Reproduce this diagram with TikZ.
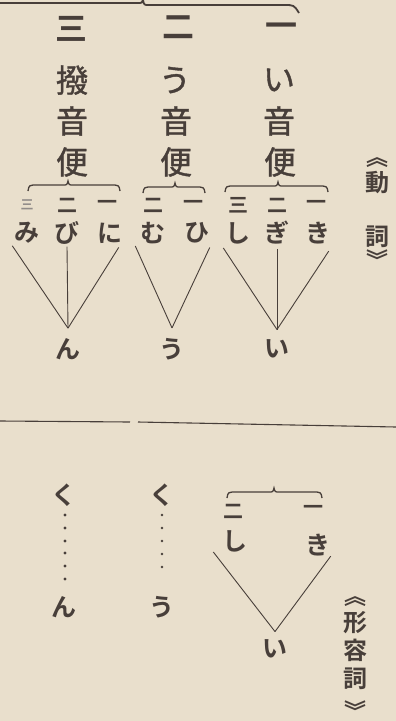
\documentclass[tikz,border=0pt]{standalone}
\usepackage{fontspec}
\newfontfamily\jp[FakeBold=1.2]{Noto Sans CJK JP}
\newfontfamily\jpb{Noto Sans CJK JP Bold}
\definecolor{bg}{RGB}{233,223,204}
\definecolor{ink}{RGB}{72,63,58}
\newcommand\mybrace[5][]{\draw[br,#1] (#2,#5+6) .. controls (#2+1,#5) .. (#2+10,#5) -- (#3-5,#5) .. controls (#3-1,#5) .. (#3,#5-4) .. controls (#3+1,#5) .. (#3+5,#5) -- (#4-10,#5) .. controls (#4-1,#5) .. (#4,#5+6);}
\begin{document}
\begin{tikzpicture}[x=1pt,y=-1pt,
  big/.style={font=\jp\fontsize{32}{32}\selectfont, text=ink, inner sep=0pt},
  topnum/.style={font=\jpb\fontsize{32}{32}\selectfont, text=ink, inner sep=0pt},
  num/.style={font=\jpb\fontsize{20}{20}\selectfont, text=ink, inner sep=0pt},
  kana/.style={font=\jpb\fontsize{25}{25}\selectfont, text=ink, inner sep=0pt},
  lbl/.style={font=\jpb\fontsize{24}{24}\selectfont, text=ink, inner sep=0pt},
  vbr/.style={font=\jpb\fontsize{22}{22}\selectfont, text=ink, inner sep=0pt},
  ln/.style={draw=ink, line width=0.9pt},
  br/.style={draw=ink, line width=1.3pt},
  dot/.style={fill=ink}]
\fill[bg] (0,0) rectangle (396,721);
\useasboundingbox (0,0) rectangle (396,721);

% top brace
\draw[br, line width=1.8pt] (-5,3) -- (137,3) .. controls (142,3) .. (143,0) .. controls (144,5) .. (149,5) -- (284,5) .. controls (294,5) .. (299,13);

% column headings
\node[topnum] (c3) at (72,29) {三};
\node[topnum] (c2) at (178,27) {二};
\node[topnum] (c1) at (281,30) {一};
\node[big] (a1) at (72,80) {撥};
\node[big] (a2) at (72,121) {音};
\node[big] (a3) at (72,162) {便};
\node[big] (b1) at (175,80) {う};
\node[big] (b2) at (176,121) {音};
\node[big] (b3) at (176,162) {便};
\node[big] (d1) at (279,80) {い};
\node[big] (d2) at (279,121) {音};
\node[big] (d3) at (280,162) {便};

% braces under columns
\mybrace{28}{68}{120}{185}
\mybrace{143}{175}{205}{187}
\mybrace{225}{278}{328}{186}

% small numerals
\node[num, font=\jpb\fontsize{13}{13}\selectfont, text=ink!60] (m3) at (27,205) {三};
\node[num] (m2) at (67,205) {二};
\node[num] (m1) at (107,205) {一};
\node[num] (u2) at (153,205) {二};
\node[num] (u1) at (193,205) {一};
\node[num] (s3) at (238,205) {三};
\node[num] (s2) at (277,205) {二};
\node[num] (s1) at (316,205) {一};

% kana row
\node[kana] (mi) at (27,233) {み};
\node[kana] (bi) at (67,233) {び};
\node[kana] (ni) at (110,233) {に};
\node[kana] (mu) at (153,233) {む};
\node[kana] (hi) at (197,233) {ひ};
\node[kana] (shi) at (238,233) {し};
\node[kana] (gi) at (277,233) {ぎ};
\node[kana] (ki) at (318,233) {き};

% results
\node[kana] (n) at (68,349) {ん};
\node[kana] (u) at (172,349) {う};
\node[kana] (i) at (277,349) {い};

\draw[ln] ([xshift=-2pt,yshift=-2pt]mi.south west) -- ([yshift=10pt]n.north);
\draw[ln] ([yshift=-2pt]bi.south) -- ([yshift=10pt]n.north);
\draw[ln] ([xshift=-4pt,yshift=-4pt]ni.south east) -- ([yshift=10pt]n.north);
\draw[ln] ([xshift=-5pt,yshift=-2pt]mu.south west) -- ([yshift=10pt]u.north);
\draw[ln] ([yshift=-4pt]hi.south east) -- ([yshift=10pt]u.north);
\draw[ln] ([xshift=-2pt,yshift=-4pt]shi.south west) -- ([yshift=10pt]i.north);
\draw[ln] ([yshift=-4pt]gi.south) -- ([yshift=10pt]i.north);
\draw[ln] ([xshift=-2pt,yshift=-7pt]ki.south east) -- ([yshift=10pt]i.north);

% verb label
\node[vbr] (v0) at (377,163) {︽};
\node[lbl] (v1) at (377,183) {動};
\node[lbl] (v2) at (377,237) {詞};
\node[vbr] (v3) at (377,259.5) {︾};

% separator
\coordinate (hL0) at (0,421);
\coordinate (hL1) at (130,422);
\coordinate (hR0) at (138,422);
\coordinate (hR1) at (396,427);
\draw[ink, line width=1.1pt] (hL0) -- (hL1);
\draw[ink, line width=1.1pt] (hR0) -- (hR1);

% adjective section
\node[kana] (k1) at (64,495) {く};
\node[kana] (n2) at (64,607) {ん};
\foreach \y in {515,528,541,553,566,579} \fill[dot] (65,\y) circle (1.7);
\node[kana] (k2) at (162,495) {く};
\node[kana] (u3) at (162,607) {う};
\foreach \y in {515,528,541,554,567} \fill[dot] (162,\y) circle (1.3);

\mybrace{227}{274}{322}{492}
\node[num] (e2) at (233,511) {二};
\node[num] (e1) at (313,510) {一};
\node[kana] (shi2) at (235,541) {し};
\node[kana] (ki2) at (318,545) {き};
\node[kana] (i2) at (275,649) {い};
\draw[ln] ([xshift=-9pt]shi2.south west) -- ([yshift=8pt]i2.north);
\draw[ln] (ki2.south east) -- ([yshift=8pt]i2.north);

% adjective label
\node[vbr] (w0) at (355,602) {︽};
\node[lbl] (w1) at (355,623) {形};
\node[lbl] (w2) at (355,650) {容};
\node[lbl] (w3) at (355,679) {詞};
\node[vbr] (w4) at (355,710.5) {︾};
\end{tikzpicture}
\end{document}
